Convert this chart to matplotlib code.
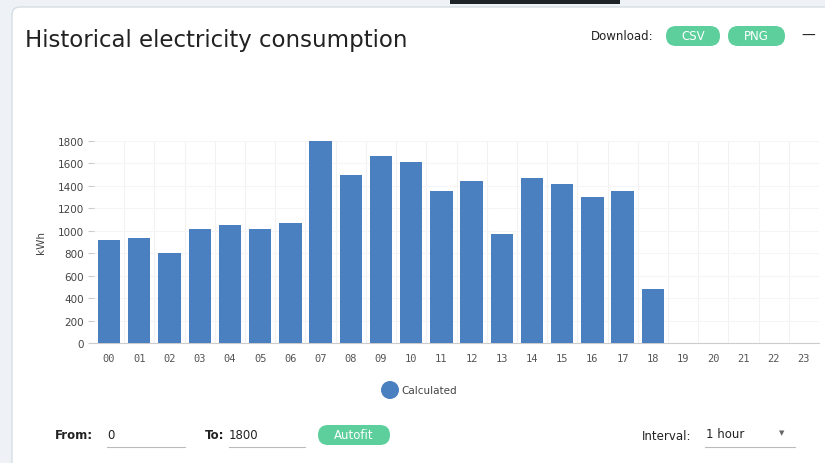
import matplotlib.pyplot as plt
from matplotlib.patches import FancyBboxPatch, Rectangle, Circle

hours = ['00', '01', '02', '03', '04', '05', '06', '07', '08', '09', '10', '11',
         '12', '13', '14', '15', '16', '17', '18', '19', '20', '21', '22', '23']
kwh = [918, 935, 802, 1016, 1055, 1016, 1070, 1800, 1500, 1664, 1610, 1355,
       1447, 971, 1467, 1413, 1298, 1352, 478, 0, 0, 0, 0, 0]
yticks = [0, 200, 400, 600, 800, 1000, 1200, 1400, 1600, 1800]

W, H = 825, 464
fig = plt.figure(figsize=(W / 100, H / 100), dpi=100)
fig.patch.set_facecolor('#eef2f6')

# page layer in pixel coordinates
bg = fig.add_axes([0, 0, 1, 1], zorder=0)
bg.set_xlim(0, W)
bg.set_ylim(H, 0)
bg.axis('off')

bg.add_patch(FancyBboxPatch((12, 8), W + 20, H + 20,
                            boxstyle='round,pad=0,rounding_size=8',
                            facecolor='white', edgecolor='#d5dde4', linewidth=1.0))
bg.add_patch(Rectangle((450, 0), 170, 5, facecolor='#1e2328', edgecolor='none'))

green = '#5ccf9c'
blue = '#4a80bf'

def pill(x0, y0, w, h, label):
    bg.add_patch(FancyBboxPatch((x0, y0), w, h,
                                boxstyle='round,pad=0,rounding_size=%f' % (h / 2),
                                facecolor=green, edgecolor='none'))
    bg.text(x0 + w / 2, y0 + h / 2, label, color='white', fontsize=8.5,
            ha='center', va='center')

bg.text(25, 40, 'Historical electricity consumption', fontsize=16.5,
        color='#222222', va='center', ha='left')
bg.text(654, 37, 'Download:', fontsize=8.5, color='#222222', va='center', ha='right')
pill(666, 27, 54, 20, 'CSV')
pill(728, 27, 57, 20, 'PNG')
bg.text(808, 36, '—', fontsize=10, color='#222222', va='center', ha='center')

# legend
bg.add_patch(Circle((390, 391), 9, facecolor=blue, edgecolor='none'))
bg.text(401, 391, 'Calculated', fontsize=7.5, color='#444444', va='center', ha='left')

# bottom controls
bg.text(55, 436, 'From:', fontsize=8.5, fontweight='bold', color='#222222', va='center')
bg.text(107, 436, '0', fontsize=8.5, color='#222222', va='center')
bg.text(205, 436, 'To:', fontsize=8.5, fontweight='bold', color='#222222', va='center')
bg.text(229, 436, '1800', fontsize=8.5, color='#222222', va='center')
for x0, x1 in [(107, 185), (229, 305), (705, 795)]:
    bg.plot([x0, x1], [448, 448], color='#bbbbbb', linewidth=0.8)
pill(318, 426, 72, 20, 'Autofit')
bg.text(642, 437, 'Interval:', fontsize=8.5, color='#222222', va='center')
bg.text(706, 435, '1 hour', fontsize=8.5, color='#222222', va='center')
bg.text(782, 433, '▼', fontsize=5, color='#666666', va='center', ha='center')

# chart
ax = fig.add_axes([94 / W, 120 / H, 725 / W, 202 / H], zorder=1)
ax.patch.set_alpha(0)
x = list(range(len(hours)))
ax.bar(x, kwh, width=0.74, color=blue, zorder=3, clip_on=False)
ax.set_xlim(-0.5, len(hours) - 0.5)
ax.set_ylim(0, 1800)
ax.set_yticks(yticks)
ax.set_xticks(x)
ax.set_xticklabels(hours, fontsize=7.5, color='#555555', family='DejaVu Sans Mono')
ax.tick_params(axis='y', labelsize=7.5, colors='#444444', length=4, color='#cccccc')
ax.tick_params(axis='x', length=0, pad=7)
ax.set_xticks([i + 0.5 for i in x[:-1]], minor=True)
ax.grid(axis='y', color='#f5f5f5', linewidth=0.8, zorder=0)
ax.grid(axis='x', which='minor', color='#f2f2f2', linewidth=0.8, zorder=0)
ax.tick_params(axis='x', which='minor', length=0)
ax.set_ylabel('kWh', fontsize=7.5, color='#444444', labelpad=8)
for s in ['top', 'right', 'left']:
    ax.spines[s].set_visible(False)
ax.spines['bottom'].set_color('#cccccc')

fig.savefig('out.png', dpi=100, facecolor=fig.get_facecolor())
